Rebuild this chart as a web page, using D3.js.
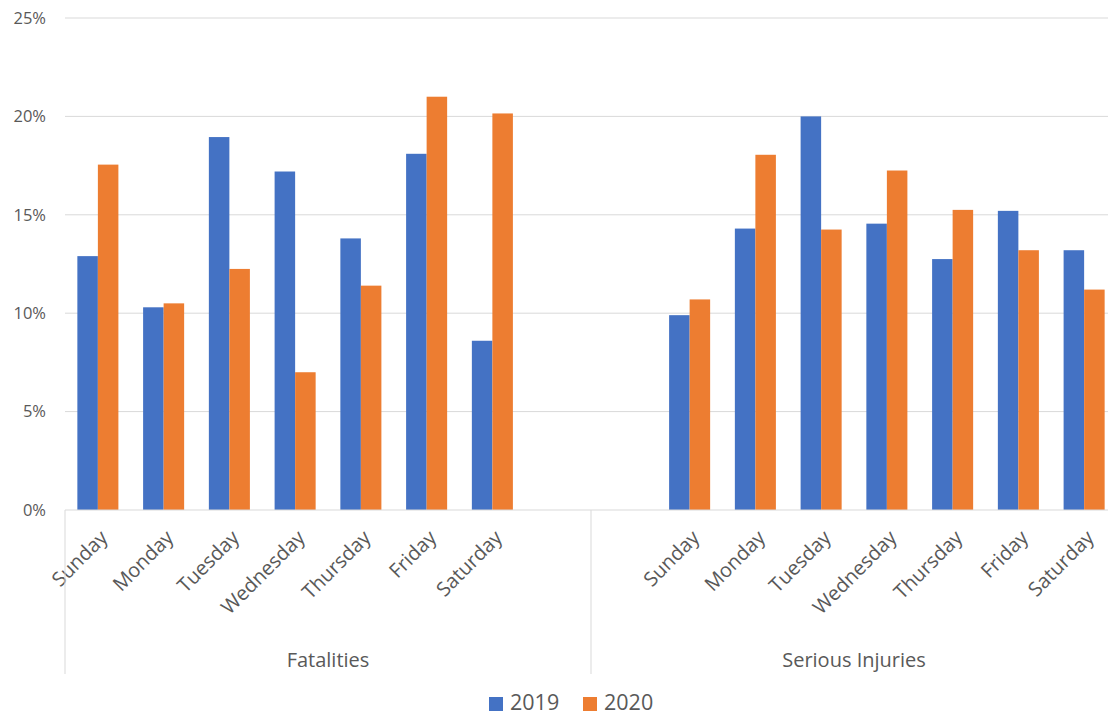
<!DOCTYPE html>
<html><head><meta charset="utf-8">
<script src="https://cdn.jsdelivr.net/npm/d3@7"></script>
<style>
html,body{margin:0;padding:0;background:#fff;}
svg{display:block;font-family:"Open Sans","Noto Sans",sans-serif;}
</style></head>
<body><svg id="c" width="1108" height="716"></svg>
<script>
const groups = ["Fatalities", "Serious Injuries"];
const days = ["Sunday","Monday","Tuesday","Wednesday","Thursday","Friday","Saturday"];
const years = ["2019","2020"];
const fatal2019 = [12.9, 10.3, 18.95, 17.2, 13.8, 18.1, 8.6];
const fatal2020 = [17.55, 10.5, 12.25, 7.0, 11.4, 21.0, 20.15];
const serious2019 = [9.9, 14.3, 20.0, 14.55, 12.75, 15.2, 13.2];
const serious2020 = [10.7, 18.05, 14.25, 17.25, 15.25, 13.2, 11.2];
const yTicks = [0, 5, 10, 15, 20, 25];
const colors = ["#4472C4", "#ED7D31"];

// category slots per group (blank slot between groups)
const groupCats = {
  "Fatalities": [...days, " "],
  "Serious Injuries": [" ", ...days]
};
const groupVals = {
  "Fatalities": [fatal2019, fatal2020],
  "Serious Injuries": [serious2019, serious2020]
};

const svg = d3.select("#c");
const mLeft = 65, mRight = 1117, mTop = 18, mBottom = 510;
const y = d3.scaleLinear().domain([0, 25]).range([mBottom, mTop]);
const xg = d3.scaleBand().domain(groups).range([mLeft, mRight]);
const grey = "#595959";

// gridlines
svg.append("g").selectAll("line").data(yTicks.filter(t => t > 0)).join("line")
  .attr("x1", mLeft).attr("x2", 1108)
  .attr("y1", d => y(d)).attr("y2", d => y(d))
  .attr("stroke", "#d9d9d9").attr("stroke-width", 1);

// y labels
svg.append("g").selectAll("text").data(yTicks).join("text")
  .attr("x", 46).attr("y", d => y(d)).attr("dy", "0.35em")
  .attr("text-anchor", "end").attr("fill", grey).attr("font-size", 16.5)
  .text(d => d + "%");

groups.forEach(g => {
  const cats = groupCats[g];
  const xc = d3.scaleBand().domain(cats.map((c, i) => i)).range([xg(g), xg(g) + xg.bandwidth()]).paddingInner(0.376).paddingOuter(0.188);
  const xy = d3.scaleBand().domain(years).range([0, xc.bandwidth()]);
  const vals = groupVals[g];
  const offset = cats[0] === " " ? 1 : 0;
  const gg = svg.append("g");
  years.forEach((yr, k) => {
    gg.append("g").selectAll("rect").data(vals[k]).join("rect")
      .attr("x", (d, i) => xc(i + offset) + xy(yr))
      .attr("width", xy.bandwidth())
      .attr("y", d => y(d))
      .attr("height", d => y(0) - y(d))
      .attr("fill", colors[k]);
  });
  // category labels
  gg.append("g").selectAll("text").data(days).join("text")
    .attr("transform", (d, i) => {
      const cx = xc(i + offset) + xc.bandwidth() / 2;
      return `translate(${cx + 11},${mBottom + 29}) rotate(-45)`;
    })
    .attr("text-anchor", "end").attr("fill", grey).attr("font-size", 20)
    .text(d => d);
  // group label
  gg.append("text").attr("x", xg(g) + xg.bandwidth() / 2).attr("y", 667)
    .attr("text-anchor", "middle").attr("fill", grey).attr("font-size", 20)
    .text(g);
  // separators
  gg.append("line").attr("x1", xg(g)).attr("x2", xg(g))
    .attr("y1", mBottom).attr("y2", 674).attr("stroke", "#d9d9d9");
});

// axis baseline
svg.append("line").attr("x1", mLeft).attr("x2", 1108).attr("y1", mBottom).attr("y2", mBottom)
  .attr("stroke", "#d9d9d9");

// legend
const lg = svg.append("g");
const legX = [489, 583];
years.forEach((yr, k) => {
  lg.append("rect").attr("x", legX[k]).attr("y", 697).attr("width", 14).attr("height", 14).attr("fill", colors[k]);
  lg.append("text").attr("x", legX[k] + 21).attr("y", 710)
    .attr("fill", grey).attr("font-size", 21.5).text(yr);
});
</script></body></html>
